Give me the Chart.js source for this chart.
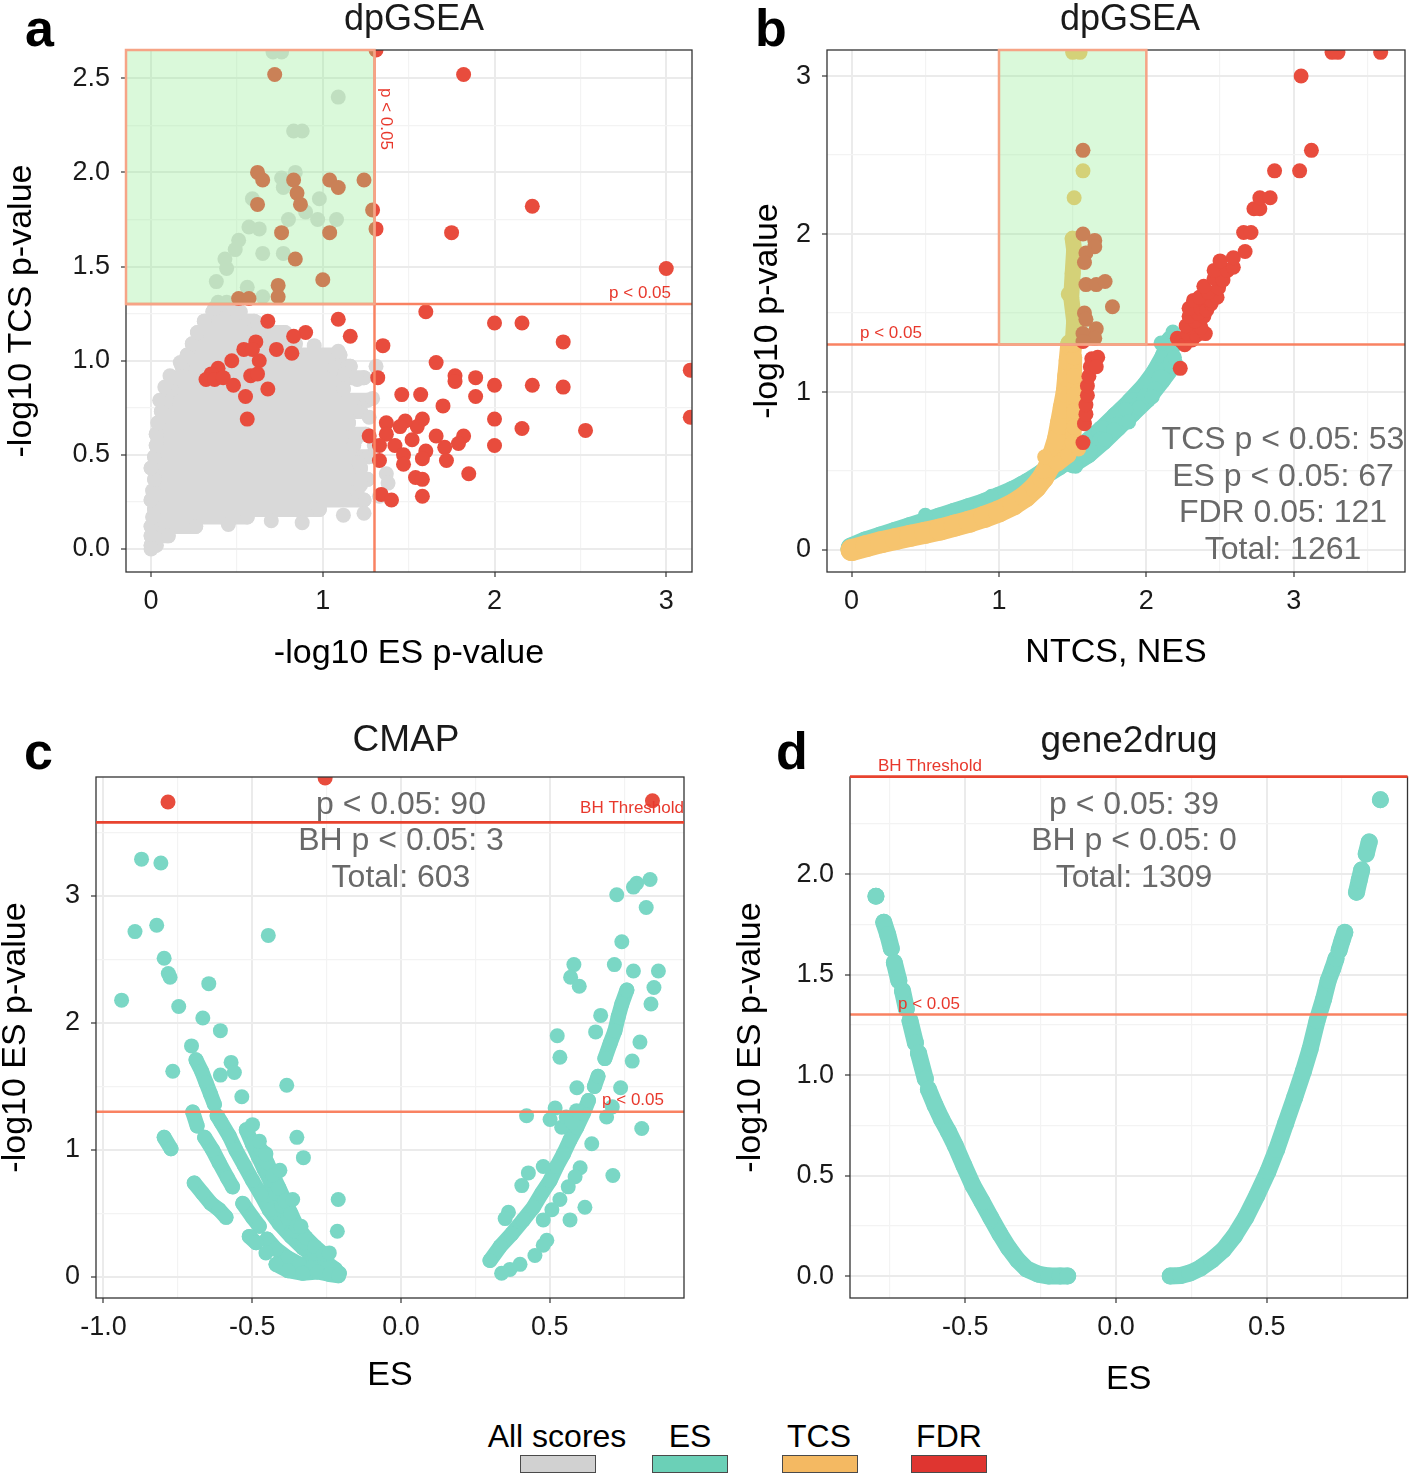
<!DOCTYPE html>
<html><head><meta charset="utf-8">
<script src="https://cdn.jsdelivr.net/npm/chart.js@4.4.1/dist/chart.umd.min.js"></script>
<style>
html,body{margin:0;padding:0;background:#fff;}
#wrap{position:relative;width:1416px;height:1475px;overflow:hidden;background:#fff;font-family:"Liberation Sans",Arial,Helvetica,sans-serif;}
canvas{position:absolute;}
.lg{position:absolute;top:1420px;font-size:32px;line-height:32px;color:#000;transform:translateX(-50%);white-space:nowrap;}
.bx{position:absolute;top:1455px;width:74px;height:16px;border:1px solid #4a4a4a;}
</style></head><body><div id="wrap">
<canvas id="pa" width="705" height="690" style="left:0;top:0"></canvas>
<canvas id="pb" width="711" height="690" style="left:705px;top:0"></canvas>
<canvas id="pc" width="705" height="720" style="left:0;top:690px"></canvas>
<canvas id="pd" width="711" height="720" style="left:705px;top:690px"></canvas>
<div class="lg" style="left:557px">All scores</div>
<div class="lg" style="left:690px">ES</div>
<div class="lg" style="left:819px">TCS</div>
<div class="lg" style="left:949px">FDR</div>
<div class="bx" style="left:520px;background:#D1D1D1"></div>
<div class="bx" style="left:652px;background:#6BD0B7"></div>
<div class="bx" style="left:782px;background:#F4B962"></div>
<div class="bx" style="left:911px;background:#DF3530"></div>
</div>
<script>
const FONT = '"Liberation Sans", Arial, Helvetica, sans-serif';
Chart.defaults.font.family = FONT;
const C_ALL = '#D9D9D9', C_ES = '#7AD7C5', C_TCS = '#F6C46E', C_FDR = '#E84C3D';
const R = 7.5;
const P05 = 1.30103;      // -log10(0.05)
const BH_CMAP = 3.58;
const BH_G2D = 2.485;

// ---------- Panel a : dpGSEA, -log10 ES p vs -log10 TCS p ----------
const aCloudRows = [ // [y, x from, x to] rows of the dense "All scores" cloud
 [0.02,0.00,0.03],[0.07,0.00,0.10],[0.12,0.00,0.26],[0.17,0.01,0.56],[0.21,0.02,0.98],
 [0.26,0.00,1.24],[0.31,0.01,1.20],[0.37,0.02,1.26],[0.43,0.00,1.22],[0.49,0.02,1.27],
 [0.55,0.03,1.18],[0.61,0.03,1.25],[0.67,0.04,1.15],[0.73,0.06,1.22],[0.79,0.09,1.26],
 [0.85,0.12,1.12],[0.91,0.15,1.24],[0.97,0.18,1.16],[1.03,0.21,1.10],[1.09,0.24,0.84],
 [1.15,0.27,0.78],[1.21,0.31,0.60],[1.26,0.36,0.50]
];
const aAllScores = [
 [0.00,0.00],[0.05,0.79],[0.08,0.86],[0.11,0.92],[0.17,0.99],[0.37,1.28],[0.45,1.29],[0.52,1.26],
 [0.62,1.20],[0.72,1.14],[0.95,1.08],[1.09,1.05],[1.07,0.96],[1.13,0.93],[1.20,0.90],[1.31,0.97],
 [1.29,0.80],[1.30,0.55],[1.37,0.40],[1.38,0.35],[1.33,0.28],[1.24,0.19],[1.12,0.18],[0.88,0.14],
 [0.70,0.15],[0.45,0.13],[1.27,0.70],[1.22,0.34],[1.19,0.58],[1.21,0.46],
 [0.71,2.64],[0.76,2.64],[1.09,2.40],[0.83,2.22],[0.88,2.22],[0.84,2.00],[0.76,1.97],[0.77,1.92],
 [0.59,1.86],[0.98,1.86],[0.90,1.79],[0.80,1.75],[0.97,1.75],[1.08,1.75],[0.57,1.71],[0.63,1.70],
 [0.51,1.64],[0.49,1.59],[0.43,1.54],[0.44,1.49],[0.65,1.57],[0.77,1.57],[0.38,1.42],[0.56,1.39],
 [0.39,1.31],[0.44,1.31],[0.65,1.34]
];
const aFDR = [
 [1.31,2.65],[1.82,2.52],[2.22,1.82],[1.75,1.68],[3.00,1.49],[1.29,1.80],[1.31,1.70],
 [1.60,1.26],[2.00,1.20],[2.16,1.20],[2.40,1.10],[3.14,0.95],[3.14,0.70],[2.53,0.63],
 [1.35,1.08],[1.66,0.99],[1.32,0.91],[1.46,0.82],[1.57,0.82],[1.70,0.76],[1.77,0.92],[1.77,0.89],
 [1.89,0.91],[1.89,0.81],[2.00,0.87],[2.22,0.87],[2.40,0.86],[2.00,0.69],[2.16,0.64],[2.00,0.55],
 [1.85,0.40],[1.66,0.60],[1.82,0.60],[1.79,0.56],[1.71,0.54],[1.72,0.47],[1.58,0.69],[1.55,0.65],
 [1.48,0.68],[1.45,0.65],[1.37,0.67],[1.37,0.61],[1.27,0.60],[1.33,0.55],[1.42,0.55],[1.52,0.58],
 [1.60,0.52],[1.47,0.50],[1.33,0.47],[1.47,0.45],[1.58,0.48],[1.54,0.38],[1.58,0.37],[1.34,0.29],
 [1.40,0.26],[1.58,0.28],
 [0.68,1.21],[1.09,1.22],[1.16,1.13],[0.90,1.15],[0.83,1.13],[0.61,1.10],[0.54,1.06],[0.59,1.06],
 [0.63,1.00],[0.73,1.06],[0.82,1.04],[0.47,1.00],[0.39,0.96],[0.35,0.93],[0.32,0.90],[0.37,0.90],
 [0.42,0.91],[0.48,0.87],[0.58,0.92],[0.62,0.93],[0.68,0.85],[0.55,0.81],[0.56,0.69],
 [0.72,2.52],[0.62,2.00],[0.65,1.96],[0.83,1.96],[0.85,1.89],[0.87,1.83],[0.62,1.83],[1.04,1.96],
 [1.09,1.92],[1.24,1.96],[0.76,1.68],[1.04,1.68],[0.84,1.54],[1.00,1.43],[0.74,1.40],[0.74,1.34],
 [0.51,1.33],[0.57,1.33]
];
const aXTicks = [0,0.5,1,1.5,2,2.5,3], aXMajor = [0,1,2,3];
const aYTicks = [0,0.25,0.5,0.75,1,1.25,1.5,1.75,2,2.25,2.5], aYMajor = [0,0.5,1,1.5,2,2.5];

// ---------- Panel b : dpGSEA, NTCS/NES vs -log10 p ----------
const bESPath = [[0.00,0.01],[0.10,0.05],[0.20,0.08],[0.30,0.11],[0.40,0.14],[0.50,0.17],[0.60,0.20],
 [0.70,0.23],[0.80,0.26],[0.90,0.29],[1.00,0.33],[1.10,0.37],[1.20,0.42],[1.30,0.48],[1.40,0.54],
 [1.50,0.60],[1.60,0.67],[1.70,0.75],[1.80,0.84],[1.90,0.93],[2.00,1.03],[2.07,1.12],[2.13,1.22],[2.17,1.32]];
const bESPath2 = [[1.50,0.55],[1.60,0.61],[1.70,0.69],[1.80,0.78],[1.90,0.87],[2.00,0.96],[2.10,1.08],[2.18,1.18]];
const bESPts = [[0.50,0.22],[0.95,0.34],[1.15,0.42],[1.34,0.50],[1.52,0.53],[1.62,0.63],[1.78,0.76],
 [1.95,0.90],[2.06,1.02],[2.10,1.31],[2.18,1.38],[2.19,1.22],[1.86,0.89],[1.72,0.70],[1.88,0.81],[2.04,0.97]];
const bTCSPath = [[0.00,0.00],[0.10,0.025],[0.20,0.05],[0.30,0.07],[0.40,0.09],[0.50,0.11],[0.60,0.13],
 [0.70,0.155],[0.80,0.18],[0.90,0.21],[1.00,0.245],[1.10,0.29],[1.18,0.34],[1.25,0.40],[1.30,0.46],
 [1.34,0.53],[1.37,0.61],[1.40,0.70],[1.42,0.80],[1.44,0.90],[1.46,1.00],[1.47,1.10],[1.48,1.20],[1.49,1.30]];
const bTCSPath2 = [[1.30,0.50],[1.40,0.55],[1.47,0.60],[1.50,0.68],[1.51,0.78],[1.51,0.88],[1.51,0.98],[1.51,1.10],[1.51,1.22]];
const bTCSCol = [[1.50,1.30],[1.51,1.45],[1.49,1.60],[1.50,1.75],[1.51,1.90],[1.50,1.97]];
const bTCSPts = [[1.31,0.59],[1.54,0.64],[1.53,1.38],[1.54,1.45],[1.47,1.62],[1.51,2.23],[1.57,2.40],[1.50,3.15],[1.55,3.15]];
const bFDR = [
 [1.57,0.68],[1.58,0.80],[1.59,0.86],[1.59,0.92],[1.60,0.98],[1.60,1.04],[1.61,1.10],[1.62,1.16],
 [1.63,1.21],[1.67,1.22],[1.66,1.16],
 [1.57,2.53],[1.57,2.00],[1.65,1.96],[1.65,1.92],[1.59,1.88],[1.58,1.82],[1.59,1.68],[1.66,1.68],
 [1.72,1.70],[1.77,1.54],[1.58,1.50],[1.59,1.46],[1.66,1.40],[1.57,1.37],[1.65,1.34],[1.57,1.32],
 [2.23,1.15],[2.21,1.34],[2.24,1.32],[2.26,1.30],[2.31,1.33],[2.28,1.37],[2.34,1.36],[2.40,1.37],
 [2.30,1.41],[2.37,1.41],[2.27,1.42],[2.33,1.45],[2.29,1.48],[2.39,1.48],[2.35,1.50],[2.29,1.53],
 [2.37,1.53],[2.41,1.52],[2.44,1.56],[2.32,1.58],[2.44,1.58],[2.48,1.60],[2.36,1.60],[2.42,1.63],
 [2.39,1.67],[2.49,1.66],[2.46,1.72],[2.52,1.71],[2.46,1.77],[2.55,1.77],[2.59,1.79],[2.50,1.83],
 [2.59,1.85],[2.67,1.89],[2.66,2.01],[2.71,2.01],[2.73,2.16],[2.77,2.16],[2.77,2.23],[2.84,2.23],
 [2.87,2.40],[3.04,2.40],[3.12,2.53],[3.05,3.00],[3.26,3.15],[3.30,3.15],[3.59,3.15]
];
const bXTicks = [0,0.5,1,1.5,2,2.5,3,3.5], bXMajor = [0,1,2,3];
const bYTicks = [0,0.5,1,1.5,2,2.5,3], bYMajor = [0,1,2,3];
const bStats = ['TCS p < 0.05: 53','ES p < 0.05: 67','FDR 0.05: 121','Total: 1261'];

// ---------- Panel c : CMAP ----------
const cESStreaks = [
 [[-0.689,1.71],[-0.670,1.62],[-0.655,1.53],[-0.640,1.44],[-0.627,1.36]],
 [[-0.618,1.27],[-0.605,1.22],[-0.577,1.11],[-0.555,1.00],[-0.527,0.88],[-0.499,0.76],[-0.471,0.65],
  [-0.443,0.53],[-0.409,0.42],[-0.370,0.32],[-0.330,0.23],[-0.286,0.15],[-0.241,0.08],[-0.207,0.03]],
 [[-0.700,1.30],[-0.685,1.19]],
 [[-0.660,1.10],[-0.633,1.00],[-0.611,0.90],[-0.583,0.78],[-0.566,0.71]],
 [[-0.532,0.58],[-0.499,0.47],[-0.476,0.40]],
 [[-0.695,0.74],[-0.667,0.66],[-0.639,0.58],[-0.611,0.53],[-0.588,0.47]],
 [[-0.796,1.10],[-0.773,1.01]],
 [[-0.52,1.16],[-0.50,1.05],[-0.48,0.95],[-0.46,0.85],[-0.44,0.76],[-0.42,0.66],[-0.40,0.56],
  [-0.38,0.46],[-0.355,0.36],[-0.325,0.27],[-0.29,0.19],[-0.255,0.12],[-0.22,0.06]],
 [[-0.47,1.00],[-0.45,0.90],[-0.43,0.80],[-0.41,0.70],[-0.39,0.60],[-0.37,0.50],[-0.35,0.40],
  [-0.32,0.31],[-0.29,0.24],[-0.26,0.18]],
 [[-0.45,0.30],[-0.42,0.22],[-0.38,0.15],[-0.34,0.10],[-0.30,0.07]],
 [[-0.42,0.10],[-0.38,0.05],[-0.33,0.03],[-0.28,0.04],[-0.24,0.02],[-0.21,0.01]],
 [[-0.51,0.32],[-0.487,0.27]],
 [[0.299,0.13],[0.333,0.24],[0.372,0.34],[0.411,0.45],[0.445,0.55],[0.473,0.66],[0.501,0.76],
  [0.523,0.87],[0.546,0.97],[0.568,1.08],[0.591,1.18],[0.613,1.29],[0.630,1.39]],
 [[0.650,1.50],[0.662,1.58]],
 [[0.685,1.72],[0.703,1.84],[0.719,1.94],[0.730,2.05],[0.742,2.15],[0.759,2.26]]
];
const cESPts = [
 [-0.872,3.29],[-0.807,3.26],[-0.894,2.72],[-0.821,2.77],[-0.446,2.69],[-0.796,2.51],[-0.782,2.39],
 [-0.776,2.36],[-0.939,2.18],[-0.646,2.31],[-0.747,2.13],[-0.666,2.04],[-0.607,1.94],[-0.704,1.82],
 [-0.767,1.62],[-0.571,1.69],[-0.560,1.61],[-0.607,1.59],[-0.384,1.51],[-0.535,1.42],
 [-0.499,1.20],[-0.476,1.07],[-0.454,0.97],[-0.407,0.84],[-0.364,0.61],[-0.336,0.40],[-0.350,1.10],
 [-0.328,0.94],[-0.211,0.61],[-0.214,0.36],[-0.454,0.19],[-0.241,0.19],
 [0.837,3.13],[0.792,3.10],[0.781,3.07],[0.725,3.01],[0.824,2.91],[0.742,2.64],[0.581,2.46],
 [0.570,2.36],[0.599,2.29],[0.717,2.46],[0.781,2.41],[0.865,2.41],[0.850,2.28],[0.840,2.15],
 [0.671,2.06],[0.654,1.93],[0.525,1.90],[0.534,1.73],[0.803,1.85],[0.777,1.70],[0.738,1.49],
 [0.591,1.49],[0.422,1.27],[0.518,1.33],[0.501,1.24],[0.540,1.18],[0.691,1.26],[0.710,1.34],
 [0.809,1.17],[0.641,1.05],[0.712,0.80],[0.478,0.87],[0.428,0.82],[0.406,0.72],[0.361,0.51],
 [0.350,0.46],[0.602,0.86],[0.585,0.79],[0.562,0.71],[0.534,0.61],[0.507,0.53],[0.618,0.55],
 [0.568,0.45],[0.478,0.45],[0.490,0.29],[0.478,0.25],[0.450,0.17],[0.400,0.10],[0.366,0.06],
 [0.338,0.03],[0.555,1.26],[0.575,1.22],[0.590,1.31]
];
const cBH = [[-0.783,3.74],[-0.255,3.93],[0.845,3.75]];
const cXTicks = [-1,-0.75,-0.5,-0.25,0,0.25,0.5,0.75], cXMajor = [-1,-0.5,0,0.5];
const cYTicks = [0,0.5,1,1.5,2,2.5,3,3.5], cYMajor = [0,1,2,3];
const cStats = ['p < 0.05: 90','BH p < 0.05: 3','Total: 603'];

// ---------- Panel d : gene2drug ----------
const dESSegments = [
 [[-0.796,1.89]],
 [[-0.770,1.76],[-0.757,1.70],[-0.745,1.63]],
 [[-0.735,1.56],[-0.720,1.47]],
 [[-0.708,1.42],[-0.695,1.33]],
 [[-0.683,1.27],[-0.665,1.16]],
 [[-0.655,1.11],[-0.632,0.98]],
 [[-0.622,0.93],[-0.600,0.85],[-0.578,0.78],[-0.556,0.72],[-0.533,0.65],[-0.504,0.55],[-0.474,0.45],
  [-0.444,0.37],[-0.415,0.29],[-0.385,0.21],[-0.356,0.14],[-0.326,0.08],[-0.296,0.035],[-0.259,0.01],
  [-0.222,0.0],[-0.185,0.0],[-0.160,0.0]],
 [[0.180,0.0],[0.215,0.003],[0.245,0.015],[0.280,0.04],[0.318,0.08],[0.356,0.13],[0.393,0.20],
  [0.430,0.29],[0.467,0.40],[0.504,0.52],[0.533,0.63],[0.563,0.76],[0.593,0.89],[0.622,1.02],
  [0.644,1.13],[0.667,1.27],[0.689,1.38],[0.704,1.47],[0.719,1.53],[0.730,1.58]],
 [[0.740,1.62],[0.750,1.67],[0.759,1.71]],
 [[0.798,1.91],[0.807,1.97],[0.815,2.02]],
 [[0.830,2.10],[0.840,2.16]],
 [[0.877,2.37]]
];
const dXTicks = [-0.75,-0.5,-0.25,0,0.25,0.5,0.75], dXMajor = [-0.5,0,0.5];
const dYTicks = [0,0.25,0.5,0.75,1,1.25,1.5,1.75,2,2.25], dYMajor = [0,0.5,1,1.5,2];
const dStats = ['p < 0.05: 39','BH p < 0.05: 0','Total: 1309'];

// ---------- helpers ----------
const pts = a => a.map(([x, y]) => ({x, y}));
function joinPaths(paths) {
  const out = [];
  paths.forEach((p, i) => { if (i) out.push({x: 0, y: null}); p.forEach(([x, y]) => out.push({x, y})); });
  return out;
}
function pathDS(data, color, w) {
  return {data, showLine: true, borderColor: color, backgroundColor: color, borderWidth: w,
    borderCapStyle: 'round', borderJoinStyle: 'round', pointRadius: w / 2, pointHoverRadius: w / 2,
    pointBorderWidth: 0, spanGaps: false, tension: 0, clip: 0};
}
function ptDS(data, color) {
  return {data, showLine: false, backgroundColor: color, borderColor: color, pointRadius: R,
    pointHoverRadius: R, pointBorderWidth: 0, clip: 0};
}
const f0 = v => String(Math.round(v));
const f1 = v => v.toFixed(1);

function buildScale(s, isX) {
  const isMajor = v => s.major.some(m => Math.abs(m - v) < 1e-9);
  return {
    type: 'linear', position: isX ? 'bottom' : 'left', min: s.min, max: s.max,
    afterBuildTicks: sc => { sc.ticks = s.ticks.map(v => ({value: v})); },
    afterFit: sc => { if (isX) sc.height = s.size; else sc.width = s.size; },
    ticks: {autoSkip: false, maxRotation: 0, minRotation: 0, padding: isX ? 8 : 11, color: '#1a1a1a',
      font: {family: FONT, size: 27}, callback: v => isMajor(v) ? s.fmt(v) : ''},
    grid: {drawTicks: true, tickLength: 5, tickWidth: 1.2,
      color: c => (c.tick && isMajor(c.tick.value)) ? '#EBEBEB' : '#F3F3F3',
      lineWidth: c => (c.tick && isMajor(c.tick.value)) ? 2 : 1.2,
      tickColor: c => (c.tick && isMajor(c.tick.value)) ? '#333333' : 'rgba(0,0,0,0)'},
    border: {display: false},
    title: {display: true, text: s.title, color: '#000', font: {family: FONT, size: 34, lineHeight: 1},
      padding: isX ? {top: 0, bottom: s.titlePad} : {top: s.titlePad, bottom: 0}}
  };
}

const LINE_P = '#F98262', LINE_BH = '#E8432F', LBL = '#E8382C', RECT_FILL = 'rgba(144,238,144,0.33)', RECT_LINE = '#F6A486';

const DECOR = {
  pa: {title: 'dpGSEA', tx: 414, ty: 30, tsize: 36, letter: 'a', lx: 25, ly: 46,
    hlines: [{v: P05, c: LINE_P, w: 2.5}], vlines: [{v: P05, c: LINE_P, w: 2.5}],
    rect: {x0: null, x1: P05, y0: P05, y1: null},
    labels: [{text: 'p < 0.05', xv: 'right', dx: -21, yv: P05, dy: -6, align: 'right'},
             {text: 'p < 0.05', xv: P05, dx: 11, yv: 'top', dy: 38, align: 'left', rot: true}]},
  pb: {title: 'dpGSEA', tx: 1130 - 705, ty: 30, tsize: 36, letter: 'b', lx: 50, ly: 46,
    hlines: [{v: P05, c: LINE_P, w: 2.5}],
    rect: {x0: 1, x1: 2, y0: P05, y1: null},
    labels: [{text: 'p < 0.05', xv: 'left', dx: 33, yv: P05, dy: -6, align: 'left'}],
    stats: {lines: bStats, cx: 578, base: [449, 486, 522, 559]}},
  pc: {title: 'CMAP', tx: 406, ty: 61, tsize: 37, letter: 'c', lx: 24, ly: 79,
    hlines: [{v: P05, c: LINE_P, w: 2.5}], bh: BH_CMAP,
    labels: [{text: 'p < 0.05', xv: 'right', dx: -20, yv: P05, dy: -7, align: 'right'},
             {text: 'BH Threshold', xv: 'right', dx: 0, yv: BH_CMAP, dy: -9, align: 'right'}],
    stats: {lines: cStats, cx: 401, base: [124, 160, 197]}},
  pd: {title: 'gene2drug', tx: 424, ty: 62, tsize: 37, letter: 'd', lx: 71, ly: 79,
    hlines: [{v: P05, c: LINE_P, w: 2.5}], bh: BH_G2D,
    labels: [{text: 'BH Threshold', xv: 'left', dx: 28, yv: BH_G2D, dy: -6, align: 'left'},
             {text: 'p < 0.05', xv: 'left', dx: 48, yv: P05, dy: -6, align: 'left'}],
    stats: {lines: dStats, cx: 429, base: [124, 160, 197]}}
};

const decor = {
  id: 'decor',
  afterDatasetsDraw(chart) {
    const d = DECOR[chart.canvas.id]; if (!d) return;
    const {ctx, chartArea: a} = chart; const X = chart.scales.x, Y = chart.scales.y;
    ctx.save();
    ctx.beginPath(); ctx.rect(a.left, a.top, a.right - a.left, a.bottom - a.top); ctx.clip();
    (d.hlines || []).forEach(h => { const p = Y.getPixelForValue(h.v); ctx.strokeStyle = h.c; ctx.lineWidth = h.w;
      ctx.beginPath(); ctx.moveTo(a.left, p); ctx.lineTo(a.right, p); ctx.stroke(); });
    (d.vlines || []).forEach(h => { const p = X.getPixelForValue(h.v); ctx.strokeStyle = h.c; ctx.lineWidth = h.w;
      ctx.beginPath(); ctx.moveTo(p, a.top); ctx.lineTo(p, a.bottom); ctx.stroke(); });
    ctx.restore();
    ctx.save(); ctx.strokeStyle = '#333'; ctx.lineWidth = 1.3;
    ctx.strokeRect(a.left, a.top, a.right - a.left, a.bottom - a.top); ctx.restore();
    if (d.rect) {
      const r = d.rect;
      const x0 = r.x0 == null ? a.left : X.getPixelForValue(r.x0);
      const x1 = r.x1 == null ? a.right : X.getPixelForValue(r.x1);
      const y0 = r.y0 == null ? a.bottom : Y.getPixelForValue(r.y0);
      const y1 = r.y1 == null ? a.top : Y.getPixelForValue(r.y1);
      ctx.save(); ctx.fillStyle = RECT_FILL; ctx.fillRect(x0, y1, x1 - x0, y0 - y1);
      ctx.strokeStyle = RECT_LINE; ctx.lineWidth = 2.5; ctx.strokeRect(x0, y1, x1 - x0, y0 - y1); ctx.restore();
    }
    if (d.bh != null) {
      const p = Math.max(Y.getPixelForValue(d.bh), a.top - 1);
      ctx.save(); ctx.strokeStyle = LINE_BH; ctx.lineWidth = 2.6;
      ctx.beginPath(); ctx.moveTo(a.left, p); ctx.lineTo(a.right, p); ctx.stroke(); ctx.restore();
    }
    (d.labels || []).forEach(l => {
      const bx = l.xv === 'right' ? a.right : l.xv === 'left' ? a.left : X.getPixelForValue(l.xv);
      const by = l.yv === 'top' ? a.top : Y.getPixelForValue(l.yv);
      ctx.save(); ctx.fillStyle = LBL; ctx.font = '17px ' + FONT;
      if (l.rot) {
        ctx.translate(bx + l.dx, by + l.dy); ctx.rotate(Math.PI / 2);
        ctx.textAlign = 'left'; ctx.textBaseline = 'middle'; ctx.fillText(l.text, 0, 0);
      } else {
        ctx.textAlign = l.align; ctx.textBaseline = 'alphabetic'; ctx.fillText(l.text, bx + l.dx, by + l.dy);
      }
      ctx.restore();
    });
    if (d.stats) {
      ctx.save(); ctx.fillStyle = '#696969'; ctx.font = '32px ' + FONT; ctx.textAlign = 'center';
      d.stats.lines.forEach((t, i) => ctx.fillText(t, d.stats.cx, d.stats.base[i])); ctx.restore();
    }
  },
  afterDraw(chart) {
    const d = DECOR[chart.canvas.id]; if (!d) return;
    const ctx = chart.ctx;
    ctx.save(); ctx.fillStyle = '#1a1a1a'; ctx.font = d.tsize + 'px ' + FONT; ctx.textAlign = 'center';
    ctx.fillText(d.title, d.tx, d.ty);
    ctx.fillStyle = '#000'; ctx.font = 'bold 52px ' + FONT; ctx.textAlign = 'left';
    ctx.fillText(d.letter, d.lx, d.ly);
    ctx.restore();
  }
};

function makeChart(id, pad, xs, ys, datasets) {
  datasets.forEach((ds, i) => { ds.order = datasets.length - i; });
  new Chart(document.getElementById(id), {
    type: 'scatter',
    data: {datasets},
    options: {
      responsive: false, animation: false, events: [],
      layout: {padding: {top: pad.top, right: pad.right, left: 0, bottom: 0}},
      plugins: {legend: {display: false}, tooltip: {enabled: false}, title: {display: false}},
      scales: {x: buildScale(xs, true), y: buildScale(ys, false)}
    },
    plugins: [decor]
  });
}

// Panel a
makeChart('pa', {top: 50, right: 13},
  {min: -0.146, max: 3.15, ticks: aXTicks, major: aXMajor, fmt: f0, size: 118, title: '-log10 ES p-value', titlePad: 19},
  {min: -0.122, max: 2.65, ticks: aYTicks, major: aYMajor, fmt: f1, size: 126, title: '-log10 TCS p-value', titlePad: 5},
  [pathDS(joinPaths(aCloudRows.map(([y, x0, x1]) => [[x0, y], [x1, y]])), C_ALL, 15),
   ptDS(pts(aAllScores), C_ALL),
   ptDS(pts(aFDR), C_FDR)]);

// Panel b
makeChart('pb', {top: 50, right: 2},
  {min: -0.167, max: 3.755, ticks: bXTicks, major: bXMajor, fmt: f0, size: 118, title: 'NTCS, NES', titlePad: 20},
  {min: -0.139, max: 3.165, ticks: bYTicks, major: bYMajor, fmt: f0, size: 122, title: '-log10 p-value', titlePad: 46},
  [pathDS(joinPaths([bESPath]), C_ES, 22),
   pathDS(joinPaths([bESPath2]), C_ES, 20),
   ptDS(pts(bESPts), C_ES),
   pathDS(joinPaths([bTCSPath]), C_TCS, 22),
   pathDS(joinPaths([bTCSPath2]), C_TCS, 16),
   pathDS(joinPaths([bTCSCol]), C_TCS, 16),
   ptDS(pts(bTCSPts), C_TCS),
   ptDS(pts(bFDR), C_FDR)]);

// Panel c
makeChart('pc', {top: 87, right: 21},
  {min: -1.025, max: 0.951, ticks: cXTicks, major: cXMajor, fmt: f1, size: 112, title: 'ES', titlePad: 17},
  {min: -0.165, max: 3.937, ticks: cYTicks, major: cYMajor, fmt: f0, size: 96, title: '-log10 ES p-value', titlePad: -1},
  [pathDS(joinPaths(cESStreaks), C_ES, 15),
   ptDS(pts(cESPts), C_ES),
   ptDS(pts(cBH), C_FDR)]);

// Panel d
makeChart('pd', {top: 87, right: 2},
  {min: -0.882, max: 0.967, ticks: dXTicks, major: dXMajor, fmt: f1, size: 112, title: 'ES', titlePad: 13},
  {min: -0.109, max: 2.483, ticks: dYTicks, major: dYMajor, fmt: f1, size: 145, title: '-log10 ES p-value', titlePad: 29},
  [pathDS(joinPaths(dESSegments), C_ES, 17)]);
</script>
</body></html>
